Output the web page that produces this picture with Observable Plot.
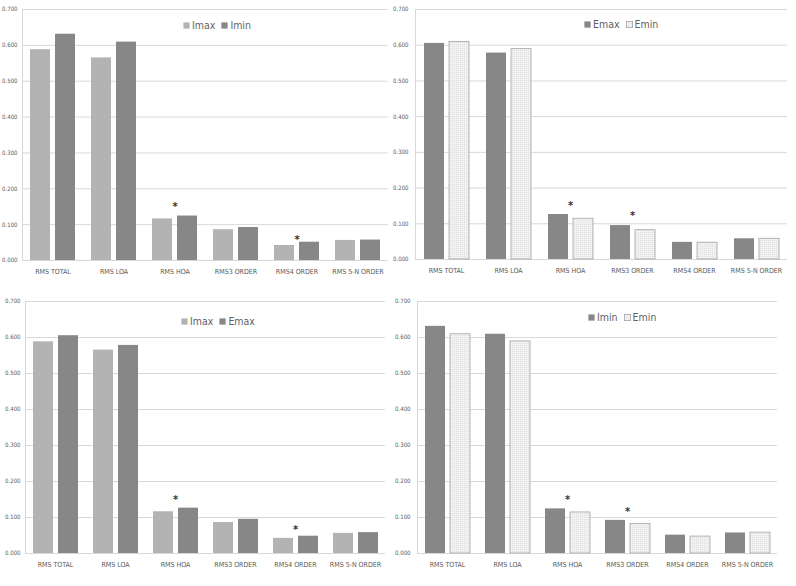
<!DOCTYPE html>
<html><head><meta charset="utf-8">
<script src="https://cdn.jsdelivr.net/npm/d3@7"></script>
<script src="https://cdn.jsdelivr.net/npm/@observablehq/plot@0.6"></script>
<style>
body{margin:0;background:#fff;}
#wrap{position:relative;width:796px;height:586px;overflow:hidden;font-family:"Liberation Sans Narrow","DejaVu Sans Condensed","Arial Narrow",sans-serif;}
.panel{position:absolute;width:398px;height:293px;}
.panel svg.chart{position:absolute;left:0;top:0;overflow:visible;}
.legend{position:absolute;display:flex;align-items:center;height:14px;font-size:10.5px;color:#5f5f5f;white-space:nowrap;}
.legend .item{display:flex;align-items:center;margin-right:6px;}
.legend svg{margin-right:2px;}
</style></head>
<body>
<svg width="0" height="0" style="position:absolute">
 <defs>
  <pattern id="dots" width="2" height="2" patternUnits="userSpaceOnUse">
   <rect width="2" height="2" fill="#f2f2f2"/>
   <rect width="1" height="1" fill="#dedede"/>
  </pattern>
 </defs>
</svg>
<div id="wrap"></div>
<script>
// ---- data ----
const categories = ["RMS TOTAL","RMS LOA","RMS HOA","RMS3 ORDER","RMS4 ORDER","RMS 5-N ORDER"];
const imax = [0.588, 0.565, 0.116, 0.086, 0.042, 0.056];
const imin = [0.631, 0.609, 0.124, 0.092, 0.051, 0.057];
const emax = [0.605, 0.578, 0.126, 0.095, 0.048, 0.058];
const emin = [0.609, 0.589, 0.114, 0.082, 0.047, 0.058];
const yTicks = [0, 0.1, 0.2, 0.3, 0.4, 0.5, 0.6, 0.7];
const panelSeries = [["Imax","Imin"],["Emax","Emin"],["Imax","Emax"],["Imin","Emin"]];
const starCats = [["RMS HOA","RMS4 ORDER"],["RMS HOA","RMS3 ORDER"],["RMS HOA","RMS4 ORDER"],["RMS HOA","RMS3 ORDER"]];
const starValues = [[0.156,0.063],[0.158,0.130],[0.156,0.071],[0.156,0.123]];

// ---- styles / layout ----
const values = {Imax: imax, Imin: imin, Emax: emax, Emin: emin};
const fillColors = {Imax:"#b3b3b3", Imin:"#878787", Emax:"#878787", Emin:"url(#dots)"};
const strokeColors = {Imax:"none", Imin:"none", Emax:"none", Emin:"#a3a3a3"};
const panelLeft = [0, 398, 0, 398], panelTop = [0, 0, 293, 293];
const mTop = [9, 9, 8, 8], mBottom = [33, 34, 33, 33], mLeft = [22, 17, 22, 17], mRight = [10, 9, 11, 18];
const tickPad = [5, 7, 5, 7];
const legLeft = [183, 186, 181, 190], legTop = [18, 17, 21, 17];
const fontStack = '"Liberation Sans Narrow","DejaVu Sans Condensed","Arial Narrow",sans-serif';

const wrap = document.getElementById("wrap");

panelSeries.forEach((series, p) => {
  const rows = categories.flatMap((c, i) => series.map(s => ({cat: c, series: s, value: values[s][i]})));
  const stars = starCats[p].map((c, i) => ({cat: c, value: starValues[p][i]}));
  const chart = Plot.plot({
    width: 398, height: 293,
    marginTop: mTop[p], marginBottom: mBottom[p], marginLeft: mLeft[p], marginRight: mRight[p],
    style: {fontFamily: fontStack, fontSize: "7px", color: "#595959", background: "transparent", overflow: "visible"},
    fx: {domain: categories, padding: 0, label: null},
    x: {domain: series, paddingInner: 0.2, paddingOuter: 0.3, axis: null},
    y: {domain: [0, 0.7]},
    marks: [
      Plot.ruleY(yTicks, {stroke: "#d9d9d9", strokeWidth: 1}),
      Plot.frame({anchor: "left", facetAnchor: "left", stroke: "#d9d9d9"}),
      ...series.map(s => Plot.barY(rows.filter(r => r.series === s), {
        fx: "cat", x: "series", y: "value", fill: fillColors[s], stroke: strokeColors[s], strokeWidth: 0.8
      })),
      Plot.text(stars, {fx: "cat", y: "value", text: () => "*", fontSize: 11, fontWeight: "bold", fill: "#333", dy: 2}),
      Plot.axisY(yTicks, {tickFormat: d3.format(".3f"), tickSize: 0, tickPadding: tickPad[p], fontSize: 6, label: null}),
      Plot.axisFx({anchor: "bottom", tickSize: 0, tickPadding: 9, label: null, fontSize: 7})
    ]
  });
  chart.setAttribute("class", (chart.getAttribute("class") || "") + " chart");
  const panel = document.createElement("div");
  panel.className = "panel";
  panel.style.left = panelLeft[p] + "px";
  panel.style.top = panelTop[p] + "px";
  panel.appendChild(chart);
  const legend = document.createElement("div");
  legend.className = "legend";
  legend.style.left = legLeft[p] + "px";
  legend.style.top = legTop[p] + "px";
  series.forEach(s => {
    const item = document.createElement("div");
    item.className = "item";
    const sw = `<svg width="7" height="7"><rect x="0.4" y="0.4" width="6.2" height="6.2" fill="${fillColors[s]}" stroke="${strokeColors[s]}" stroke-width="0.8"/></svg>`;
    item.innerHTML = sw + "<span>" + s + "</span>";
    legend.appendChild(item);
  });
  panel.appendChild(legend);
  wrap.appendChild(panel);
});
</script>
</body></html>
